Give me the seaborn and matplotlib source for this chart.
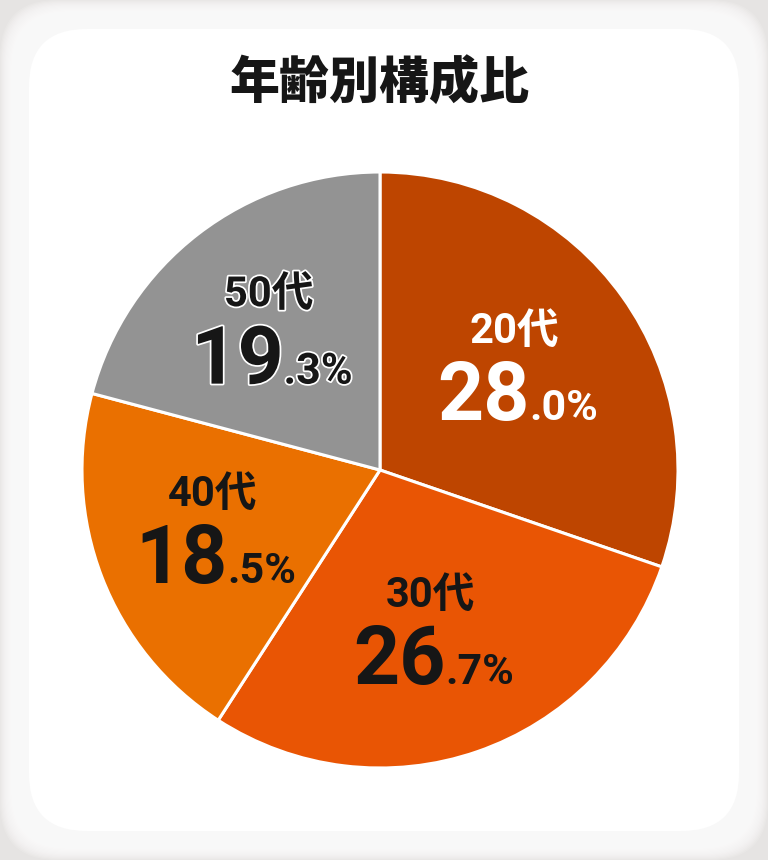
import numpy as np
import seaborn as sns
import matplotlib.pyplot as plt
import matplotlib.patheffects as pe
from matplotlib.patches import FancyBboxPatch

# data
groups = ['20代', '30代', '40代', '50代']
shares = [28.0, 26.7, 18.5, 19.3]
colors = ['#BE4500', '#E95504', '#EA7000', '#939393']
text_colors = ['white', '#161616', '#161616', '#161616']
title = '年齢別構成比'

sns.set_theme(style='white')
plt.rcParams['font.family'] = ['Roboto', 'Noto Sans CJK JP', 'DejaVu Sans']

W, H = 768, 860
fig = plt.figure(figsize=(W / 100, H / 100), dpi=100)
fig.patch.set_facecolor('#e6e4e3')

# soft card with glow edge
n = 30
for i in range(n):
    inset = i * 1.0
    box = FancyBboxPatch((inset / W, inset / H), 1 - 2 * inset / W, 1 - 2 * inset / H,
                         boxstyle='round,pad=0,rounding_size=0.075',
                         transform=fig.transFigure, facecolor='white',
                         edgecolor='none', alpha=0.14 if i < n - 1 else 1.0,
                         mutation_aspect=W / H, zorder=-10)
    fig.patches.append(box)

fig.text(380 / W, 1 - 83 / H, title, ha='center', va='center', fontsize=36,
         fontweight='black', color='#161616',
         family=['Noto Sans CJK JP', 'DejaVu Sans'])

R = 298
ax = fig.add_axes([(380 - R) / W, (H - 470 - R) / H, 2 * R / W, 2 * R / H])
ax.set_zorder(5)
wedges, _ = ax.pie(shares, colors=colors, startangle=90, counterclock=False,
                   radius=1, wedgeprops=dict(edgecolor='white', linewidth=2.2))
ax.set_xlim(-1, 1)
ax.set_ylim(-1, 1)
ax.set_aspect('equal')
ax.axis('off')

for w, g, s, tc in zip(wedges, groups, shares, text_colors):
    mid = np.deg2rad((w.theta1 + w.theta2) / 2)
    x, y = 0.58 * np.cos(mid), 0.58 * np.sin(mid)
    fx = []
    if g == '50代':
        fx = [pe.withStroke(linewidth=2.5, foreground='white')]
    whole, frac = f'{s:.1f}'.split('.')
    ax.text(x - 0.02, y + 0.09, g, ha='center', va='baseline', fontsize=30,
            fontweight='bold', color=tc, path_effects=fx)
    ax.text(x + 0.03, y - 0.17, whole, ha='right', va='baseline', fontsize=58,
            fontweight='bold', color=tc, path_effects=fx)
    ax.text(x + 0.03, y - 0.17, f'.{frac}%', ha='left', va='baseline', fontsize=31,
            fontweight='bold', color=tc, path_effects=fx)

fig.savefig('out.png', dpi=100, facecolor=fig.get_facecolor())
